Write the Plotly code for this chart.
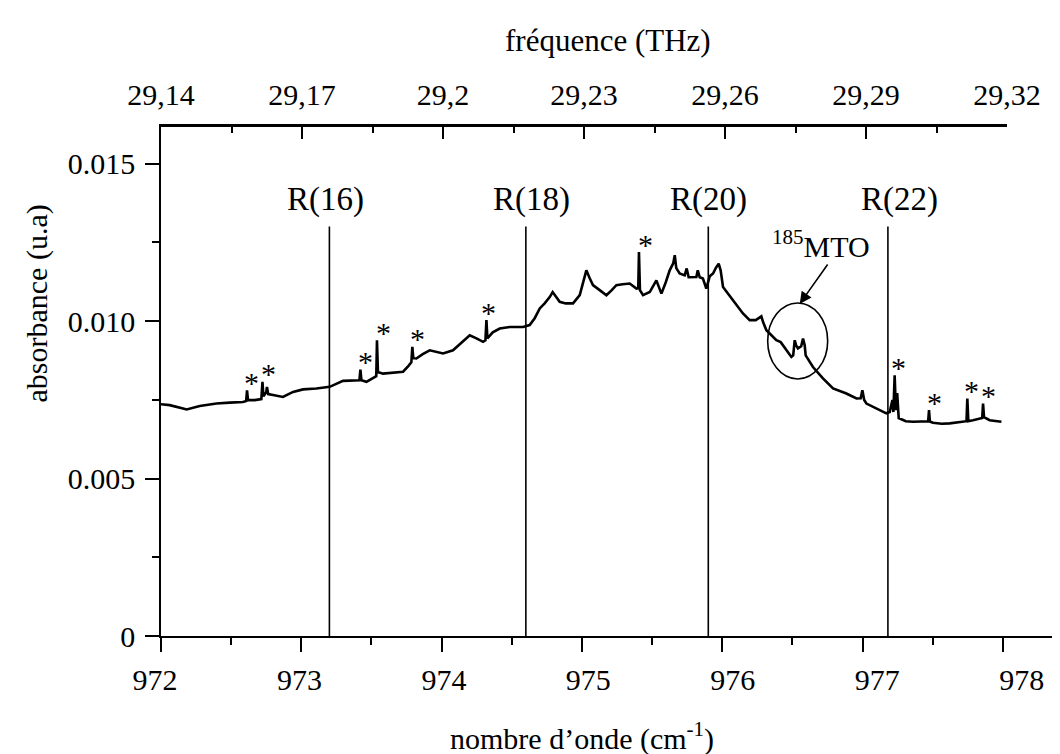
import numpy as np
import plotly.graph_objects as go

# ---------------- data ----------------
wavenumber = [
    972.000, 972.062, 972.157, 972.183, 972.276, 972.395, 972.490, 972.584, 972.607, 972.613,
    972.620, 972.668, 972.715, 972.723, 972.730, 972.750, 972.755, 972.764, 972.798, 972.869,
    972.941, 973.012, 973.107, 973.202, 973.297, 973.392, 973.414, 973.421, 973.428, 973.464,
    973.516, 973.534, 973.539, 973.546, 973.582, 973.651, 973.725, 973.762, 973.784, 973.791,
    973.798, 973.820, 973.865, 973.915, 974.010, 974.081, 974.152, 974.200, 974.248, 974.295,
    974.312, 974.319, 974.326, 974.364, 974.414, 974.485, 974.580, 974.627, 974.663, 974.699,
    974.734, 974.770, 974.791, 974.841, 974.884, 974.936, 974.984, 975.012, 975.031, 975.055,
    975.078, 975.126, 975.174, 975.212, 975.245, 975.290, 975.340, 975.388, 975.401, 975.406,
    975.413, 975.435, 975.483, 975.530, 975.566, 975.597, 975.625, 975.650, 975.661, 975.672,
    975.696, 975.732, 975.746, 975.760, 975.815, 975.825, 975.839, 975.862, 975.886, 975.910,
    975.934, 975.953, 975.974, 975.988, 976.005, 976.076, 976.147, 976.195, 976.238, 976.278,
    976.291, 976.314, 976.385, 976.416, 976.457, 976.492, 976.505, 976.516, 976.526, 976.539,
    976.562, 976.575, 976.587, 976.594, 976.646, 976.717, 976.789, 976.884, 976.956, 976.986,
    976.998, 977.011, 977.027, 977.098, 977.169, 977.193, 977.212, 977.219, 977.228, 977.237,
    977.246, 977.257, 977.307, 977.359, 977.454, 977.467, 977.473, 977.479, 977.501, 977.563,
    977.620, 977.715, 977.740, 977.746, 977.753, 977.786, 977.834, 977.852, 977.858, 977.865,
    977.905, 977.948, 977.989,
]
absorbance = [
    0.00736, 0.00733, 0.00722, 0.00719, 0.00730, 0.00738, 0.00741, 0.00743, 0.00746, 0.00780,
    0.00749, 0.00749, 0.00752, 0.00807, 0.00761, 0.00774, 0.00791, 0.00768, 0.00765, 0.00759,
    0.00775, 0.00783, 0.00786, 0.00791, 0.00810, 0.00812, 0.00812, 0.00846, 0.00812, 0.00807,
    0.00819, 0.00825, 0.00939, 0.00838, 0.00833, 0.00836, 0.00839, 0.00857, 0.00869, 0.00918,
    0.00882, 0.00881, 0.00895, 0.00907, 0.00897, 0.00907, 0.00934, 0.00955, 0.00945, 0.00934,
    0.00939, 0.01003, 0.00945, 0.00964, 0.00976, 0.00981, 0.00981, 0.00987, 0.01009, 0.01040,
    0.01056, 0.01076, 0.01092, 0.01061, 0.01056, 0.01056, 0.01082, 0.01129, 0.01161, 0.01136,
    0.01114, 0.01098, 0.01082, 0.01098, 0.01114, 0.01117, 0.01119, 0.01103, 0.01104, 0.01219,
    0.01098, 0.01082, 0.01092, 0.01129, 0.01087, 0.01123, 0.01161, 0.01183, 0.01209, 0.01168,
    0.01151, 0.01145, 0.01167, 0.01139, 0.01140, 0.01161, 0.01139, 0.01135, 0.01103, 0.01142,
    0.01151, 0.01168, 0.01182, 0.01161, 0.01108, 0.01066, 0.01024, 0.01003, 0.01003, 0.01015,
    0.00996, 0.00971, 0.00939, 0.00933, 0.00907, 0.00886, 0.00891, 0.00939, 0.00923, 0.00913,
    0.00920, 0.00944, 0.00923, 0.00891, 0.00854, 0.00818, 0.00786, 0.00770, 0.00754, 0.00755,
    0.00780, 0.00749, 0.00738, 0.00722, 0.00707, 0.00711, 0.00749, 0.00711, 0.00828, 0.00717,
    0.00771, 0.00692, 0.00682, 0.00680, 0.00680, 0.00682, 0.00717, 0.00681, 0.00677, 0.00674,
    0.00675, 0.00680, 0.00682, 0.00754, 0.00682, 0.00685, 0.00691, 0.00692, 0.00738, 0.00695,
    0.00685, 0.00682, 0.00680,
]

r_line_positions = [973.20, 974.60, 975.90, 977.18]
r_line_labels = ["R(16)", "R(18)", "R(20)", "R(22)"]
r_line_top = 0.0130

star_wavenumbers = [972.63, 972.755, 973.44, 973.57, 973.81, 974.32, 975.44,
                    977.24, 977.50, 977.76, 977.88]

mto_wavenumber = 976.537
mto_label = "<sup>185</sup>MTO"

x_tick_values = [972, 973, 974, 975, 976, 977, 978]
thz_tick_values = [29.14, 29.17, 29.20, 29.23, 29.26, 29.29, 29.32]
thz_tick_labels = ["29,14", "29,17", "29,2", "29,23", "29,26", "29,29", "29,32"]
y_tick_values = [0, 0.005, 0.010, 0.015]
y_tick_labels = ["0", "0.005", "0.010", "0.015"]

CM_TO_THZ = 0.0299792458

# ---------------- layout geometry (page pixels; the page body adds an 8 px offset) ----------------
FONT = "Liberation Serif"
OFF = 8
W, H = 1060 - OFF, 754 - OFF
L, R, T, B = 100, 0, 127 - OFF, 118
PW = W - L - R          # paper width
PH = H - T - B          # paper height


def px(page_x):
    return (page_x - OFF - L) / PW


def py(page_y):
    return (636 - page_y) / PH


AX_LEFT, AX_RIGHT_TOP, AX_RIGHT_BOTTOM = 161, 1007, 1060
PX_PER_CM = 140.33
LABEL_972, LABEL_PX_PER_CM = 155, 144.45

wn = np.array(wavenumber)
ab = np.array(absorbance)

fig = go.Figure()

# spectrum
fig.add_trace(go.Scatter(x=wn, y=ab, mode="lines",
                         line=dict(color="black", width=2.6),
                         hoverinfo="skip", showlegend=False))

# CO2 laser lines
lx, ly = [], []
for r in r_line_positions:
    lx += [r, r, None]
    ly += [0, r_line_top, None]
fig.add_trace(go.Scatter(x=lx, y=ly, mode="lines",
                         line=dict(color="black", width=1.6),
                         hoverinfo="skip", showlegend=False))

# invisible traces that carry the top (THz) axis and the bottom label axis
fig.add_trace(go.Scatter(x=wn * CM_TO_THZ, y=ab, xaxis="x2", yaxis="y",
                         mode="lines", line=dict(width=0), opacity=0,
                         hoverinfo="skip", showlegend=False))
fig.add_trace(go.Scatter(x=wn, y=ab, xaxis="x3", yaxis="y",
                         mode="lines", line=dict(width=0), opacity=0,
                         hoverinfo="skip", showlegend=False))

annotations = []
label_xshift = [-4, 6, 0, 12]
for r, lab, dx in zip(r_line_positions, r_line_labels, label_xshift):
    annotations.append(dict(x=r, y=r_line_top, xref="x", yref="y", text=lab,
                            showarrow=False, yanchor="bottom", yshift=7, xshift=dx,
                            font=dict(family=FONT, size=33, color="black")))
# asterisks over the spikes
for s in star_wavenumbers:
    m = np.abs(wn - s) <= 0.045
    ypk = ab[m].max()
    annotations.append(dict(x=s, y=ypk, xref="x", yref="y", text="*",
                            showarrow=False, yanchor="middle", yshift=8, xshift=2,
                            font=dict(family=FONT, size=30, color="black")))

mto_y = float(np.interp(mto_wavenumber, wn, ab))
# arrow (no text) pointing to the top of the circle
annotations.append(dict(x=mto_wavenumber, y=mto_y, xref="x", yref="y", yshift=44, xshift=2,
                        text="", showarrow=True, arrowhead=2, arrowsize=1.5,
                        arrowwidth=1.6, arrowcolor="black", ax=29, ay=-41))
# 185MTO label
annotations.append(dict(x=mto_wavenumber, y=mto_y, xref="x", yref="y", yshift=104, xshift=23,
                        text=mto_label, showarrow=False, yanchor="middle",
                        font=dict(family=FONT, size=30, color="black")))

# axis titles
annotations.append(dict(x=px(607.5), y=1, xref="paper", yref="paper",
                        yshift=87, text="fréquence (THz)", showarrow=False,
                        yanchor="middle", font=dict(family=FONT, size=31, color="black")))
annotations.append(dict(x=px(581.5), y=0, xref="paper", yref="paper",
                        yshift=-100, text="nombre d’onde (cm<sup>-1</sup>)", showarrow=False,
                        yanchor="middle", font=dict(family=FONT, size=30, color="black")))
annotations.append(dict(x=px(36), y=py(303.5), xref="paper", yref="paper",
                        text="absorbance (u.a)", textangle=-90, showarrow=False,
                        xanchor="center", yanchor="middle",
                        font=dict(family=FONT, size=30, color="black")))

shapes = [dict(type="circle", xref="x", yref="y", xsizemode="pixel", ysizemode="pixel",
               xanchor=mto_wavenumber, yanchor=mto_y, x0=-30, x1=30, y0=-31, y1=45,
               line=dict(color="black", width=1.6))]

tickfont = dict(family=FONT, size=30, color="black")
x_start = px(AX_LEFT)

fig.update_layout(
    width=W, height=H,
    margin=dict(l=L, r=R, t=T, b=B, autoexpand=False),
    paper_bgcolor="white", plot_bgcolor="rgba(0,0,0,0)",
    showlegend=False,
    annotations=annotations,
    shapes=shapes,
    xaxis=dict(domain=[x_start, 1],
               range=[972, 972 + (AX_RIGHT_BOTTOM - AX_LEFT) / PX_PER_CM],
               tickvals=x_tick_values, showticklabels=False,
               ticks="outside", ticklen=14, tickwidth=1.6, tickcolor="black",
               minor=dict(ticks="outside", ticklen=7, tickwidth=1.6, tickcolor="black",
                          tick0=972, dtick=0.5),
               showline=True, linecolor="black", linewidth=1.6,
               showgrid=False, zeroline=False, fixedrange=True),
    xaxis3=dict(domain=[0, 1], anchor="y", side="bottom",
                range=[972 - (LABEL_972 - OFF - L) / LABEL_PX_PER_CM,
                       972 + (AX_RIGHT_BOTTOM - LABEL_972) / LABEL_PX_PER_CM],
                tickvals=x_tick_values, ticks="", showline=False, showgrid=False,
                zeroline=False, tickfont=tickfont, ticklabelstandoff=23),
    xaxis2=dict(domain=[x_start, px(AX_RIGHT_TOP)], anchor="y", side="top",
                range=[29.14, 29.32], tickvals=thz_tick_values, ticktext=thz_tick_labels,
                ticks="inside", ticklen=12, tickwidth=1.6, tickcolor="black",
                minor=dict(ticks="inside", ticklen=6, tickwidth=1.6, tickcolor="black",
                           tick0=29.14, dtick=0.015),
                showline=True, linecolor="black", linewidth=2.6,
                showgrid=False, zeroline=False, tickfont=tickfont, ticklabelstandoff=7),
    yaxis=dict(domain=[0, 1], range=[0, 0.01616], anchor="x",
               tickvals=y_tick_values, ticktext=y_tick_labels,
               ticks="outside", ticklen=14, tickwidth=1.6, tickcolor="black",
               minor=dict(ticks="outside", ticklen=7, tickwidth=1.6, tickcolor="black",
                          tick0=0, dtick=0.0025),
               showline=True, linecolor="black", linewidth=1.6,
               showgrid=False, zeroline=False, tickfont=tickfont, ticklabelstandoff=4),
)

fig.write_html("out.html")
